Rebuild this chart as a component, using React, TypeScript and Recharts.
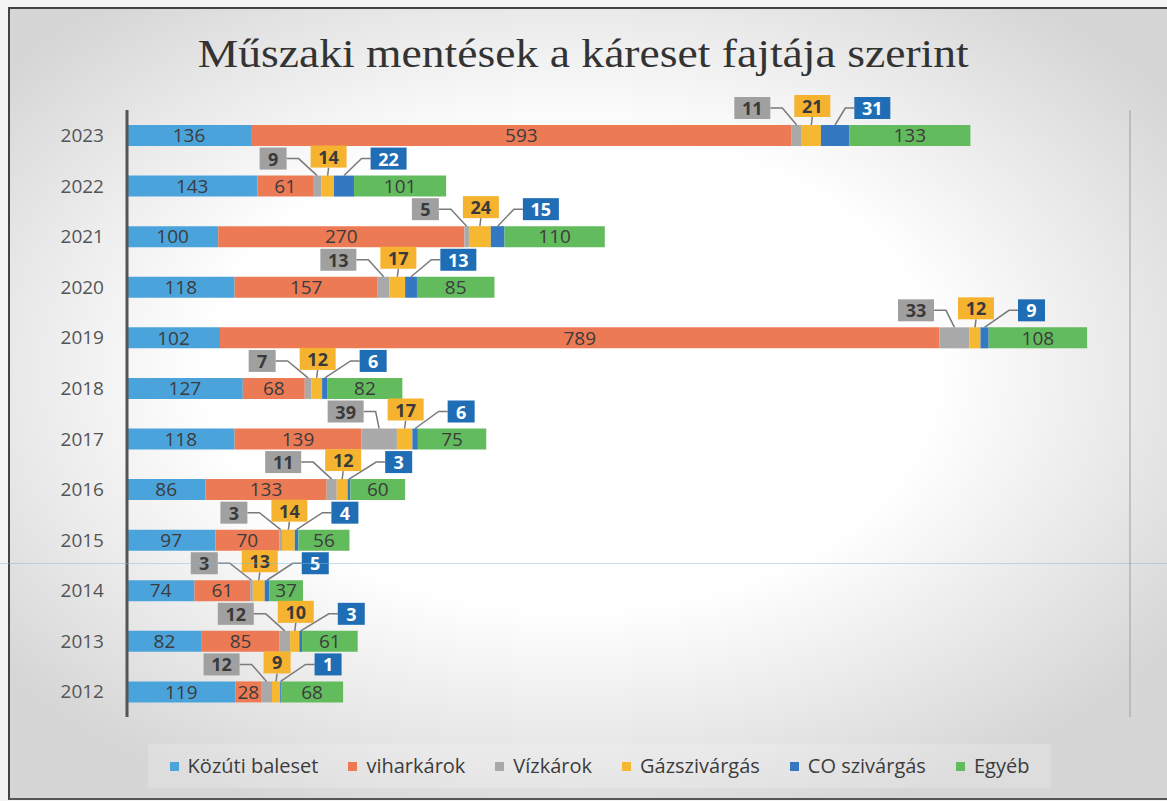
import React from "react";
import { BarChart, Bar, XAxis, YAxis, CartesianGrid, LabelList, Legend } from "recharts";

// years, top to bottom as in the chart
const YEARS = ["2023", "2022", "2021", "2020", "2019", "2018", "2017", "2016", "2015", "2014", "2013", "2012"];
const KOZUTI = [136, 143, 100, 118, 102, 127, 118, 86, 97, 74, 82, 119];
const VIHAR = [593, 61, 270, 157, 789, 68, 139, 133, 70, 61, 85, 28];
const VIZ = [11, 9, 5, 13, 33, 7, 39, 11, 3, 3, 12, 12];
const GAZ = [21, 14, 24, 17, 12, 12, 17, 12, 14, 13, 10, 9];
const CO = [31, 22, 15, 13, 9, 6, 6, 3, 4, 5, 3, 1];
const EGYEB = [133, 101, 110, 85, 108, 82, 75, 60, 56, 37, 61, 68];
const X_TICKS = [0, 100, 200, 300, 400, 500, 600, 700, 800, 900, 1000, 1100];

const SERIES = [
  { key: "kozuti", name: "Közúti baleset", color: "#4ba3db" },
  { key: "vihar", name: "viharkárok", color: "#ec7b55" },
  { key: "viz", name: "Vízkárok", color: "#a9a9a9" },
  { key: "gaz", name: "Gázszivárgás", color: "#f6b731" },
  { key: "co", name: "CO szivárgás", color: "#3478c2" },
  { key: "egyeb", name: "Egyéb", color: "#62bb5d" },
];

const data = YEARS.map((year, i) => ({
  year,
  kozuti: KOZUTI[i],
  vihar: VIHAR[i],
  viz: VIZ[i],
  gaz: GAZ[i],
  co: CO[i],
  egyeb: EGYEB[i],
}));

const FONT = "'Open Sans', 'Noto Sans', sans-serif";
const TEXT = "#3c3c3c";
const LEADER = "#7a7a7a";

const boxW = (v: number) => String(v).length * 9 + 18;
const BOX_H = 22;

// draws the three callout boxes (Vízkárok, Gázszivárgás, CO) for one year
function renderCallouts(props: any) {
  const vb = props.viewBox ?? props;
  const x = Number(vb.x);
  const y = Number(vb.y);
  const width = Number(vb.width);
  let i = YEARS.indexOf(String(props.value));
  if (i < 0) i = props.index ?? 0;
  const s = width / GAZ[i];

  const gazC = x + width / 2;
  const vizC = x - (VIZ[i] * s) / 2;
  const coC = x + width + (CO[i] * s) / 2;

  const gw = boxW(GAZ[i]);
  const gx = gazC + 1 - gw / 2;
  const gcy = y - 19;

  const vw = boxW(VIZ[i]);
  const vRight = gx - 24;
  const vcy = y - 17;

  const cw = boxW(CO[i]);
  const cLeft = gx + gw + 24;
  const ccy = y - 17;

  return (
    <g key={`co-${i}`}>
      <polyline
        points={`${vRight},${vcy} ${vRight + 12},${vcy} ${vizC},${y}`}
        fill="none"
        stroke={LEADER}
        strokeWidth={1.5}
      />
      <line x1={gx + gw / 2} y1={gcy + BOX_H / 2} x2={gazC} y2={y} stroke={LEADER} strokeWidth={1.5} />
      <polyline
        points={`${cLeft},${ccy} ${cLeft - 9},${ccy} ${coC},${y}`}
        fill="none"
        stroke={LEADER}
        strokeWidth={1.5}
      />
      <rect x={vRight - vw} y={vcy - BOX_H / 2} width={vw} height={BOX_H} fill="#a0a0a0" />
      <text x={vRight - vw / 2} y={vcy} textAnchor="middle" dominantBaseline="central" fontSize={18} fontWeight={700} fill="#3a3a3a">
        {VIZ[i]}
      </text>
      <rect x={gx} y={gcy - BOX_H / 2} width={gw} height={BOX_H} fill="#f5b330" />
      <text x={gx + gw / 2} y={gcy} textAnchor="middle" dominantBaseline="central" fontSize={18} fontWeight={700} fill="#3a3a3a">
        {GAZ[i]}
      </text>
      <rect x={cLeft} y={ccy - BOX_H / 2} width={cw} height={BOX_H} fill="#1f6db5" />
      <text x={cLeft + cw / 2} y={ccy} textAnchor="middle" dominantBaseline="central" fontSize={18} fontWeight={700} fill="#ffffff">
        {CO[i]}
      </text>
    </g>
  );
}

function LegendContent() {
  return (
    <div
      style={{
        display: "flex",
        justifyContent: "center",
        paddingLeft: 32,
        fontFamily: FONT,
        fontSize: 20,
        color: "#3c3c3c",
        lineHeight: "24px",
      }}
    >
      <div style={{ display: "flex", gap: 30, background: "rgba(255,255,255,0.18)", padding: "10px 22px" }}>
        {SERIES.map((s) => (
          <div key={s.key} style={{ display: "flex", alignItems: "center", gap: 9 }}>
            <span style={{ width: 9, height: 9, background: s.color, display: "inline-block" }} />
            <span>{s.name}</span>
          </div>
        ))}
      </div>
    </div>
  );
}

export default function App() {
  return (
    <div
      style={{
        position: "absolute",
        left: 0,
        top: 0,
        width: 1167,
        height: 801,
        background: "#f4f4f4",
        overflow: "hidden",
      }}
    >
      <div
        style={{
          position: "absolute",
          left: 8,
          top: 7,
          width: 1170,
          height: 789,
          borderLeft: "2px solid #444",
          borderTop: "2px solid #444",
          borderBottom: "2px solid #555",
          background: "radial-gradient(ellipse 62% 60% at 48% 46%, #ffffff 50%, #d6d6d6 100%)",
        }}
      />
      <div
        style={{
          position: "absolute",
          top: 30,
          left: 0,
          width: 1167,
          textAlign: "center",
        }}
      >
        <span
          style={{
            display: "inline-block",
            fontFamily: "'Liberation Serif', 'DejaVu Serif', serif",
            fontSize: 40,
            color: "#333",
            transform: "scaleX(1.14)",
            transformOrigin: "center",
          }}
        >
          Műszaki mentések a káreset fajtája szerint
        </span>
      </div>
      <div style={{ position: "absolute", left: 0, top: 0 }}>
        <BarChart
          width={1167}
          height={801}
          data={data}
          layout="vertical"
          margin={{ top: 110, right: 37, bottom: 84, left: 7 }}
          barSize={21}
          style={{ fontFamily: FONT }}
        >
          <CartesianGrid horizontal={false} stroke="#a8a8a8" strokeWidth={1.2} />
          <XAxis
            type="number"
            domain={[0, 1100]}
            ticks={X_TICKS}
            tick={false}
            axisLine={false}
            tickLine={false}
            height={0}
          />
          <YAxis
            type="category"
            dataKey="year"
            width={120}
            axisLine={{ stroke: "#555", strokeWidth: 3 }}
            tickLine={false}
            tickSize={0}
            tickMargin={23}
            tick={{ fill: "#555", fontSize: 19 }}
          />
          <Legend
            layout="horizontal"
            verticalAlign="middle"
            align="center"
            wrapperStyle={{ top: 744, left: 0, width: 1167 }}
            content={() => <LegendContent />}
          />
          <Bar dataKey="kozuti" name="Közúti baleset" stackId="a" fill={SERIES[0].color} isAnimationActive={false}>
            <LabelList dataKey="kozuti" position="center" fill={TEXT} fontSize={19} />
          </Bar>
          <Bar dataKey="vihar" name="viharkárok" stackId="a" fill={SERIES[1].color} isAnimationActive={false}>
            <LabelList dataKey="vihar" position="center" fill={TEXT} fontSize={19} />
          </Bar>
          <Bar dataKey="viz" name="Vízkárok" stackId="a" fill={SERIES[2].color} isAnimationActive={false} />
          <Bar dataKey="gaz" name="Gázszivárgás" stackId="a" fill={SERIES[3].color} isAnimationActive={false}>
            <LabelList dataKey={(d: any) => d.year} content={renderCallouts} />
          </Bar>
          <Bar dataKey="co" name="CO szivárgás" stackId="a" fill={SERIES[4].color} isAnimationActive={false} />
          <Bar dataKey="egyeb" name="Egyéb" stackId="a" fill={SERIES[5].color} isAnimationActive={false}>
            <LabelList dataKey="egyeb" position="center" fill={TEXT} fontSize={19} />
          </Bar>
        </BarChart>
      </div>
      <div
        style={{
          position: "absolute",
          left: 0,
          top: 563,
          width: 1167,
          height: 1,
          background: "rgba(120,190,210,0.45)",
        }}
      />
    </div>
  );
}
